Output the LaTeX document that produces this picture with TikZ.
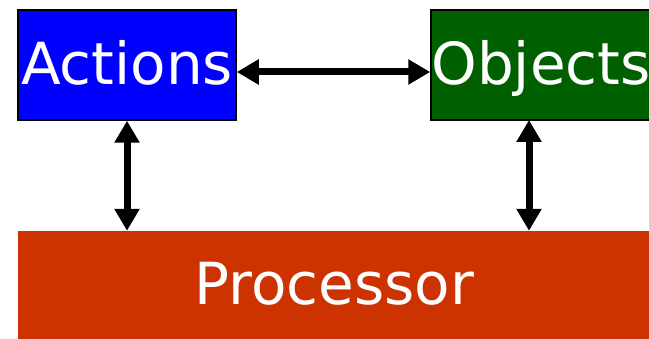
\documentclass[tikz,border=0pt]{standalone}
\usepackage{fontspec}
\setmainfont{DejaVu Sans}
\usetikzlibrary{arrows.meta}
\definecolor{actblue}{HTML}{0000FF}
\definecolor{objgreen}{HTML}{006000}
\definecolor{procred}{HTML}{CC3300}
\tikzset{
  label text/.style={text=white, inner sep=0pt, text height=44pt, text depth=4pt,
    font=\fontsize{58}{62}\selectfont},
  box/.style={label text, draw=black, line width=1.5pt},
  link/.style={line width=7pt, {Triangle[length=22pt,width=24pt]}-{Triangle[length=22pt,width=24pt]}}
}
\begin{document}
\begin{tikzpicture}[x=1pt,y=-1pt]
  \useasboundingbox (0,0) rectangle (649,339);
  % top row
  \node[box, fill=actblue, minimum width=218pt, minimum height=110pt] (act) at (127,65) {Actions};
  \node[box, fill=objgreen, minimum width=220pt, minimum height=110pt] (obj) at (541,65) {Objects};
  % processor bar
  \node[label text, fill=procred, minimum width=633pt, minimum height=108pt] (proc) at (334.5,285) {Processor};
  % connectors
  \draw[link] ([yshift=-7pt]act.east) -- ([yshift=-7pt]obj.west);
  \draw[link] (act.south) -- (act.south |- proc.north);
  \draw[link] (529,120) coordinate (ot) -- (ot |- proc.north);
\end{tikzpicture}
\end{document}
